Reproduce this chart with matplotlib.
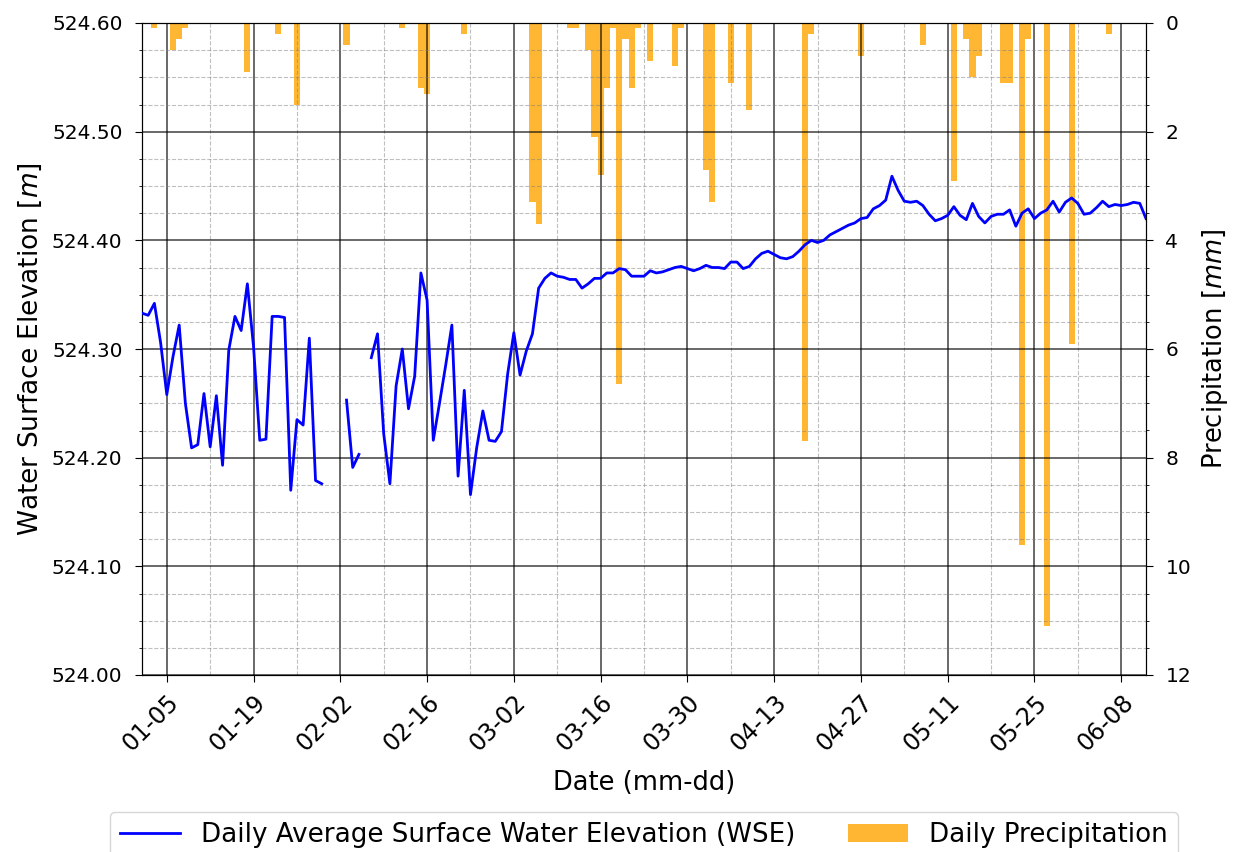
import numpy as np
import pandas as pd
import matplotlib
matplotlib.use('Agg')
import matplotlib.pyplot as plt
import matplotlib.dates as mdates
from matplotlib.ticker import MultipleLocator, FormatStrFormatter
from matplotlib.patches import Patch
from matplotlib.lines import Line2D

# daily water surface elevation, 2023-01-01 .. 2023-06-12 (nan = no data)
start_date = '2023-01-01'
wse = [
    524.333, 524.331, 524.342, 524.306, 524.258, 524.293, 524.322, 524.250, 524.209, 524.212,
    524.259, 524.210, 524.257, 524.193, 524.299, 524.330, 524.317, 524.360, 524.302, 524.216,
    524.217, 524.330, 524.330, 524.329, 524.170, 524.235, 524.230, 524.310, 524.179, 524.176,
    np.nan, np.nan, np.nan, 524.253, 524.191, 524.203, np.nan, 524.292, 524.314, 524.222,
    524.176, 524.266, 524.300, 524.245, 524.275, 524.370, 524.345, 524.216, 524.250, 524.285,
    524.322, 524.183, 524.262, 524.166, 524.209, 524.243, 524.216, 524.215, 524.224, 524.277,
    524.315, 524.276, 524.298, 524.314, 524.356, 524.365, 524.370, 524.367, 524.366, 524.364,
    524.364, 524.356, 524.360, 524.365, 524.365, 524.370, 524.370, 524.374, 524.373, 524.367,
    524.367, 524.367, 524.372, 524.370, 524.371, 524.373, 524.375, 524.376, 524.374, 524.372,
    524.374, 524.377, 524.375, 524.375, 524.374, 524.380, 524.380, 524.374, 524.376, 524.383,
    524.388, 524.390, 524.387, 524.384, 524.383, 524.385, 524.390, 524.396, 524.400, 524.398,
    524.400, 524.405, 524.408, 524.411, 524.414, 524.416, 524.420, 524.421, 524.429, 524.432,
    524.437, 524.459, 524.446, 524.436, 524.435, 524.436, 524.432, 524.424, 524.418, 524.420,
    524.423, 524.431, 524.423, 524.419, 524.434, 524.422, 524.416, 524.422, 524.424, 524.424,
    524.428, 524.413, 524.425, 524.429, 524.420, 524.425, 524.428, 524.436, 524.426, 524.435,
    524.439, 524.434, 524.424, 524.425, 524.430, 524.436, 524.431, 524.433, 524.432, 524.433,
    524.435, 524.434, 524.420,
]

# daily precipitation (mm), only the days with rain
rain_days = [
    '01-03', '01-06', '01-07', '01-08', '01-18', '01-23', '01-26', '02-03', '02-12', '02-15',
    '02-16', '02-22', '03-05', '03-06', '03-11', '03-12', '03-14', '03-15', '03-16', '03-17',
    '03-18', '03-19', '03-20', '03-21', '03-22', '03-24', '03-28', '03-29', '04-02', '04-03',
    '04-06', '04-09', '04-18', '04-19', '04-27', '05-07', '05-12', '05-14', '05-15', '05-16',
    '05-20', '05-21', '05-23', '05-24', '05-27', '05-31', '06-06',
]
rain_mm = [
    0.1, 0.5, 0.3, 0.1, 0.9, 0.2, 1.5, 0.4, 0.1, 1.2,
    1.3, 0.2, 3.3, 3.7, 0.1, 0.1, 0.5, 2.1, 2.8, 1.2,
    0.1, 6.65, 0.3, 1.2, 0.1, 0.7, 0.8, 0.1, 2.7, 3.3,
    1.1, 1.6, 7.7, 0.2, 0.6, 0.4, 2.9, 0.3, 1.0, 0.6,
    1.1, 1.1, 9.6, 0.3, 11.1, 5.9, 0.2,
]

dates = pd.date_range(start_date, periods=len(wse), freq='D')
rain_dates = pd.to_datetime(['2023-' + d for d in rain_days])

fig = plt.figure(figsize=(12.33, 8.52), dpi=100)
ax1 = fig.add_axes([142 / 1233, 1 - 675 / 852, (1146 - 142) / 1233, (675 - 23) / 852])
ax2 = ax1.twinx()

ax1.grid(which='major', color='black', linestyle='-', linewidth=1.1, alpha=0.75)
ax1.grid(which='minor', color='grey', linestyle='--', linewidth=0.8, alpha=0.5)

ax2.bar(rain_dates, rain_mm, width=1.0, color='orange', alpha=0.8, zorder=2)
ax1.plot(dates, wse, color='blue', linewidth=2.0, zorder=3)

ax1.set_zorder(ax2.get_zorder() + 1)
ax1.patch.set_visible(False)

ax1.set_xlim(dates[0], dates[-1])
ax1.set_ylim(524.0, 524.6)
ax1.yaxis.set_major_locator(MultipleLocator(0.1))
ax1.yaxis.set_minor_locator(MultipleLocator(0.025))
ax1.yaxis.set_major_formatter(FormatStrFormatter('%.2f'))

ax2.set_ylim(12, 0)
ax2.yaxis.set_major_locator(MultipleLocator(2))
ax2.yaxis.set_minor_locator(MultipleLocator(0.5))

major_ticks = pd.date_range('2023-01-05', '2023-06-12', freq='14D')
minor_ticks = pd.date_range('2023-01-05', '2023-06-12', freq='7D')
ax1.set_xticks(major_ticks)
ax1.set_xticks(minor_ticks, minor=True)
ax1.xaxis.set_major_formatter(mdates.DateFormatter('%m-%d'))
ax1.tick_params(axis='x', which='minor', length=0)
plt.setp(ax1.get_xticklabels(), rotation=45, ha='right', rotation_mode='anchor')

ax1.tick_params(axis='y', which='major', labelsize=14.5, length=5, pad=9)
ax1.tick_params(axis='x', which='major', labelsize=17, length=5, pad=6)
ax2.tick_params(axis='y', which='major', labelsize=14.5, length=5, pad=9)

ax1.set_xlabel('Date (mm-dd)', fontsize=18.5, labelpad=10)
ax1.set_ylabel('Water Surface Elevation [$m$]', fontsize=19, labelpad=6)
ax2.set_ylabel('Precipitation [$mm$]', fontsize=18.5, labelpad=6)

handles = [
    Line2D([0], [0], color='blue', linewidth=2.0),
    Patch(facecolor='orange', alpha=0.8),
]
labels = ['Daily Average Surface Water Elevation (WSE)', 'Daily Precipitation']
ax1.legend(handles, labels, loc='upper center', bbox_to_anchor=(0.5, -0.19),
           ncol=2, fontsize=18.8, frameon=True, columnspacing=2.0, handlelength=2.3)

fig.savefig('out.png', dpi=100)
